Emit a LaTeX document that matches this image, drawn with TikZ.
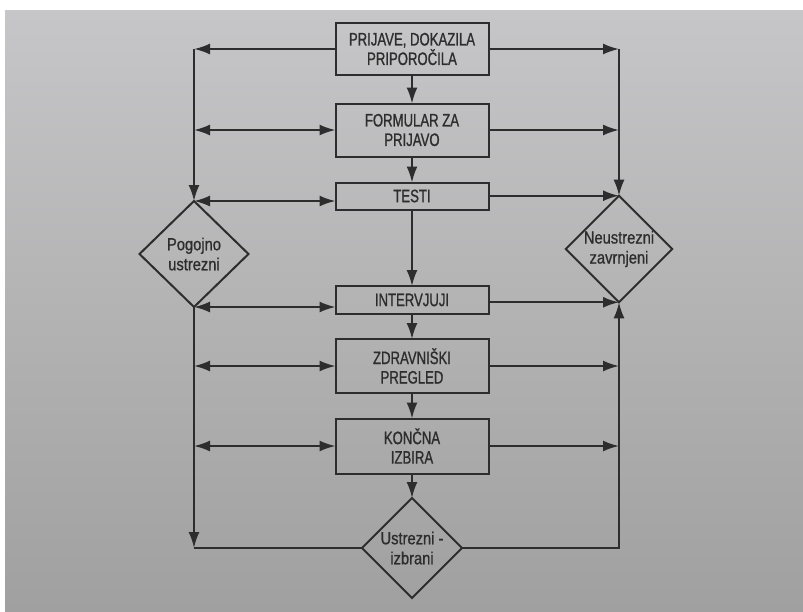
\documentclass[tikz,border=0pt]{standalone}
\usepackage{fontspec}
\usepackage{tikz}
\usetikzlibrary{positioning, arrows.meta}
\usetikzlibrary{shapes.geometric}

\newfontfamily\flowfont{Liberation Sans}[FakeStretch=0.73, FakeBold=1]
\newfontfamily\choicefont{Liberation Sans}[FakeStretch=0.84, FakeBold=0.8]
\definecolor{papertop}{RGB}{198,198,200}
\definecolor{paperbot}{RGB}{160,160,160}
\definecolor{ink}{RGB}{45,45,45}

\tikzset{
    stepbox/.style={rectangle, draw=ink, line width=2pt, outer sep=0pt, minimum width=153pt,
        align=center, inner sep=2pt, text=ink,
        font=\flowfont\fontsize{18}{19.5}\selectfont},
    choice/.style={diamond, draw=ink, line width=2pt, outer sep=0pt, inner sep=0pt,
        align=center, text=ink, font=\choicefont\fontsize{17.5}{20}\selectfont},
    flow/.style={draw=ink, line width=2pt, -{Latex[length=16pt,width=11pt]}},
    both/.style={flow, {Latex[length=16pt,width=11pt]}-{Latex[length=16pt,width=11pt]}},
    plain/.style={draw=ink, line width=2pt}
}

\begin{document}
\begin{tikzpicture}[x=1pt, y=-1pt]
            \useasboundingbox (0,0) rectangle (803,611);
            \fill[top color=papertop, bottom color=paperbot] (5,10) rectangle (803,611);

            \node[stepbox, minimum height=52pt] (b1) at (412,49) {PRIJAVE, DOKAZILA\\PRIPOROČILA};
            \node[stepbox, minimum height=53pt] (b2) at (412,130) {FORMULAR ZA\\PRIJAVO};
            \node[stepbox, minimum height=27pt] (b3) at (412,196) {TESTI};
            \node[stepbox, minimum height=28pt] (b4) at (412,300) {INTERVJUJI};
            \node[stepbox, minimum height=54pt] (b5) at (412,366) {ZDRAVNIŠKI\\PREGLED};
            \node[stepbox, minimum height=55pt] (b6) at (412,446) {KONČNA\\IZBIRA};

            \node[choice, minimum width=109pt, minimum height=106pt] (pog) at (194,254) {Pogojno\\ustrezni};
            \node[choice, minimum width=100pt, minimum height=100pt] (neu) at (619,249) {Neustrezni\\zavrnjeni};
            \node[choice, minimum width=100pt, minimum height=100pt] (ustr) at (412,548) {Ustrezni -\\izbrani};

            % middle column
            \draw[flow] (b1.south) -- (b2.north);
            \draw[flow] (b2.south) -- (b3.north);
            \draw[flow] (b3.south) -- (b4.north);
            \draw[flow] (b4.south) -- (b5.north);
            \draw[flow] (b5.south) -- (b6.north);
            \draw[flow] (b6.south) -- (ustr.north);

            % left side
            \coordinate (lt) at (b1.west -| pog.north);
            \coordinate (lb) at (pog.south |- ustr.west);
            \draw[flow] (b1.west) -- (lt);
            \draw[flow] (lt) -- (pog.north);
            \draw[both] (b2.west -| pog.north) -- (b2.west);
            \draw[both] (pog.north) -- (pog.north -| b3.west);
            \draw[both] (pog.south) -- (pog.south -| b4.west);
            \draw[both] (b5.west -| lb) -- (b5.west);
            \draw[both] (b6.west -| lb) -- (b6.west);
            \draw[flow] (pog.south) -- (lb);
            \draw[plain] (lb) -- (ustr.west);

            % right side
            \coordinate (rt) at (b1.east -| neu.north);
            \coordinate (rb) at (ustr.east -| neu.south);
            \draw[flow] (b1.east) -- (rt);
            \draw[flow] (rt) -- (neu.north);
            \draw[flow] (b2.east) -- (b2.east -| rt);
            \draw[flow] (b3.east |- neu.north) -- (neu.north);
            \draw[flow] (b4.east |- neu.south) -- (neu.south);
            \draw[flow] (b5.east) -- (b5.east -| rb);
            \draw[flow] (b6.east) -- (b6.east -| rb);
            \draw[flow] (ustr.east) -- (rb) -- (neu.south);
        \end{tikzpicture}
\end{document}
